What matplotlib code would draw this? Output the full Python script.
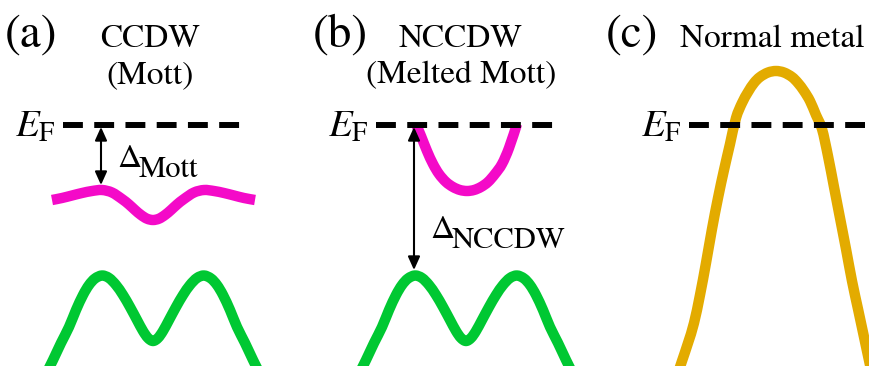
import matplotlib
matplotlib.use("Agg")
import matplotlib.pyplot as plt
from matplotlib.path import Path
from matplotlib.patches import PathPatch
import numpy as np

plt.rcParams['font.family'] = ['STIXGeneral', 'DejaVu Serif']
plt.rcParams['mathtext.fontset'] = 'stix'

# band dispersions, k measured from the centre of each panel, E from E_F
k_lower = np.array([-106, -100, -92, -84, -77, -70, -64, -58, -51, -44, -37, -30, -23, -16, -10, -5, 0,
                    5, 10, 16, 23, 30, 37, 44, 51, 58, 64, 70, 77, 84, 92, 100, 106])
E_lower = np.array([-247, -235, -218, -202, -185, -170, -160, -153.5, -150.5, -153, -160, -170, -182, -195,
                    -206, -213, -216, -213, -206, -195, -182, -170, -160, -153, -150.5, -153.5, -160, -170,
                    -185, -202, -218, -235, -247])

k_mott = np.array([-101, -91, -81, -71, -61, -51, -41, -31, -24, -18, -12, -6, 0,
                   6, 12, 18, 24, 31, 41, 51, 61, 71, 81, 91, 102])
E_mott = np.array([-75, -73, -70.5, -68, -66, -65, -67.5, -74, -79.5, -85, -90, -93.7, -95,
                   -93.7, -90, -85, -79.5, -74, -67.5, -65, -66, -68, -70.5, -73, -75])

k_melted = np.array([-51, -46, -40, -34, -28, -21, -14, -7, 0, 7, 14, 21, 28, 35, 42, 50])
E_melted = np.array([1, -11, -26, -39, -49, -57, -62, -65, -66, -65, -62, -57, -49, -39, -23, 1])

k_metal = np.array([-100, -94, -88, -82, -76, -70, -64, -58, -52, -46, -40, -34, -28, -22, -16, -8, 0,
                    8, 16, 22, 28, 34, 40, 46, 52, 58, 64, 70, 76, 82, 88, 94, 98])
E_metal = np.array([-254, -236, -218, -198, -170, -138, -104, -73, -45, -19, 7, 22, 33, 42, 48, 52.5, 54,
                    52.5, 48, 42, 34, 24, 10, -4, -31, -62, -93, -124, -156, -184, -212, -240, -258])

gap_mott = 60        # E_F to top of the Mott band
gap_nccdw = 145      # E_F to top of the lower band

panel_labels = ['(a)', '(b)', '(c)']
titles = [['CCDW', '(Mott)'], ['NCCDW', '(Melted Mott)'], ['Normal metal']]

magenta = '#f40ac8'
green = '#00c832'
gold = '#e3ab00'
band_lw = 7.5


def smooth_path(x, y):
    """Catmull-Rom curve through the given points, as cubic Bezier segments."""
    pts = np.column_stack([x, y]).astype(float)
    verts = [pts[0]]
    codes = [Path.MOVETO]
    n = len(pts)
    for i in range(n - 1):
        p0 = pts[max(i - 1, 0)]
        p1, p2 = pts[i], pts[i + 1]
        p3 = pts[min(i + 2, n - 1)]
        verts += [p1 + (p2 - p0) / 6, p2 - (p3 - p1) / 6, p2]
        codes += [Path.CURVE4] * 3
    return Path(verts, codes)


def draw_band(ax, k, E, x0, color, zorder=2):
    patch = PathPatch(smooth_path(k + x0, E), fill=False, edgecolor=color,
                      lw=band_lw, capstyle='butt', joinstyle='round', zorder=zorder)
    ax.add_patch(patch)


fig = plt.figure(figsize=(8.69, 3.66), dpi=100)
ax = fig.add_axes([0, 0, 1, 1])
ax.set_xlim(0, 869)
ax.set_ylim(-241, 125)
ax.axis('off')

centres = [153, 466, 776]
ef_spans = [(63, 240), (376, 553), (689, 865)]

# Fermi level dashes and labels
for (x0, x1), xl in zip(ef_spans, [56, 369, 682]):
    ax.plot([x0, x1], [0, 0], color='k', lw=4.3, dashes=(3.33, 1.9),
            solid_capstyle='butt', dash_capstyle='butt', zorder=5)
    ax.text(xl, -12, r'$E_{\mathrm{F}}$', fontsize=28, ha='right', va='baseline')

arrow_kw = dict(arrowstyle='<|-|>,head_length=0.4,head_width=0.18', color='k',
                lw=1.5, shrinkA=0, shrinkB=0, mutation_scale=20)

# (a) CCDW
ca = centres[0]
draw_band(ax, k_mott, E_mott, ca, magenta)
draw_band(ax, k_lower, E_lower, ca, green)
ax.annotate('', xy=(101, -gap_mott), xytext=(101, -2), arrowprops=arrow_kw)
ax.text(117, -42, r'$\Delta$', fontsize=24, ha='left', va='baseline')
ax.text(139, -52, 'Mott', fontsize=22, ha='left', va='baseline')

# (b) NCCDW
cb = centres[1]
draw_band(ax, k_melted, E_melted, cb + 1, magenta, zorder=3)
draw_band(ax, k_lower, E_lower, cb, green)
ax.annotate('', xy=(414, -gap_nccdw), xytext=(414, -2), arrowprops=arrow_kw)
ax.text(430, -113, r'$\Delta$', fontsize=24, ha='left', va='baseline')
ax.text(452, -123, 'NCCDW', fontsize=22, ha='left', va='baseline')

# (c) normal metal
draw_band(ax, k_metal, E_metal, centres[2], gold, zorder=3)

# panel labels and titles
for lab, xl in zip(panel_labels, [31, 340, 632]):
    ax.text(xl, 78, lab, fontsize=34, ha='center', va='baseline')
for lines, xt in zip(titles, [150, 461, 772]):
    for i, line in enumerate(lines):
        ax.text(xt, 78 - 36 * i, line, fontsize=24, ha='center', va='baseline')

fig.savefig('out.png', dpi=100)
